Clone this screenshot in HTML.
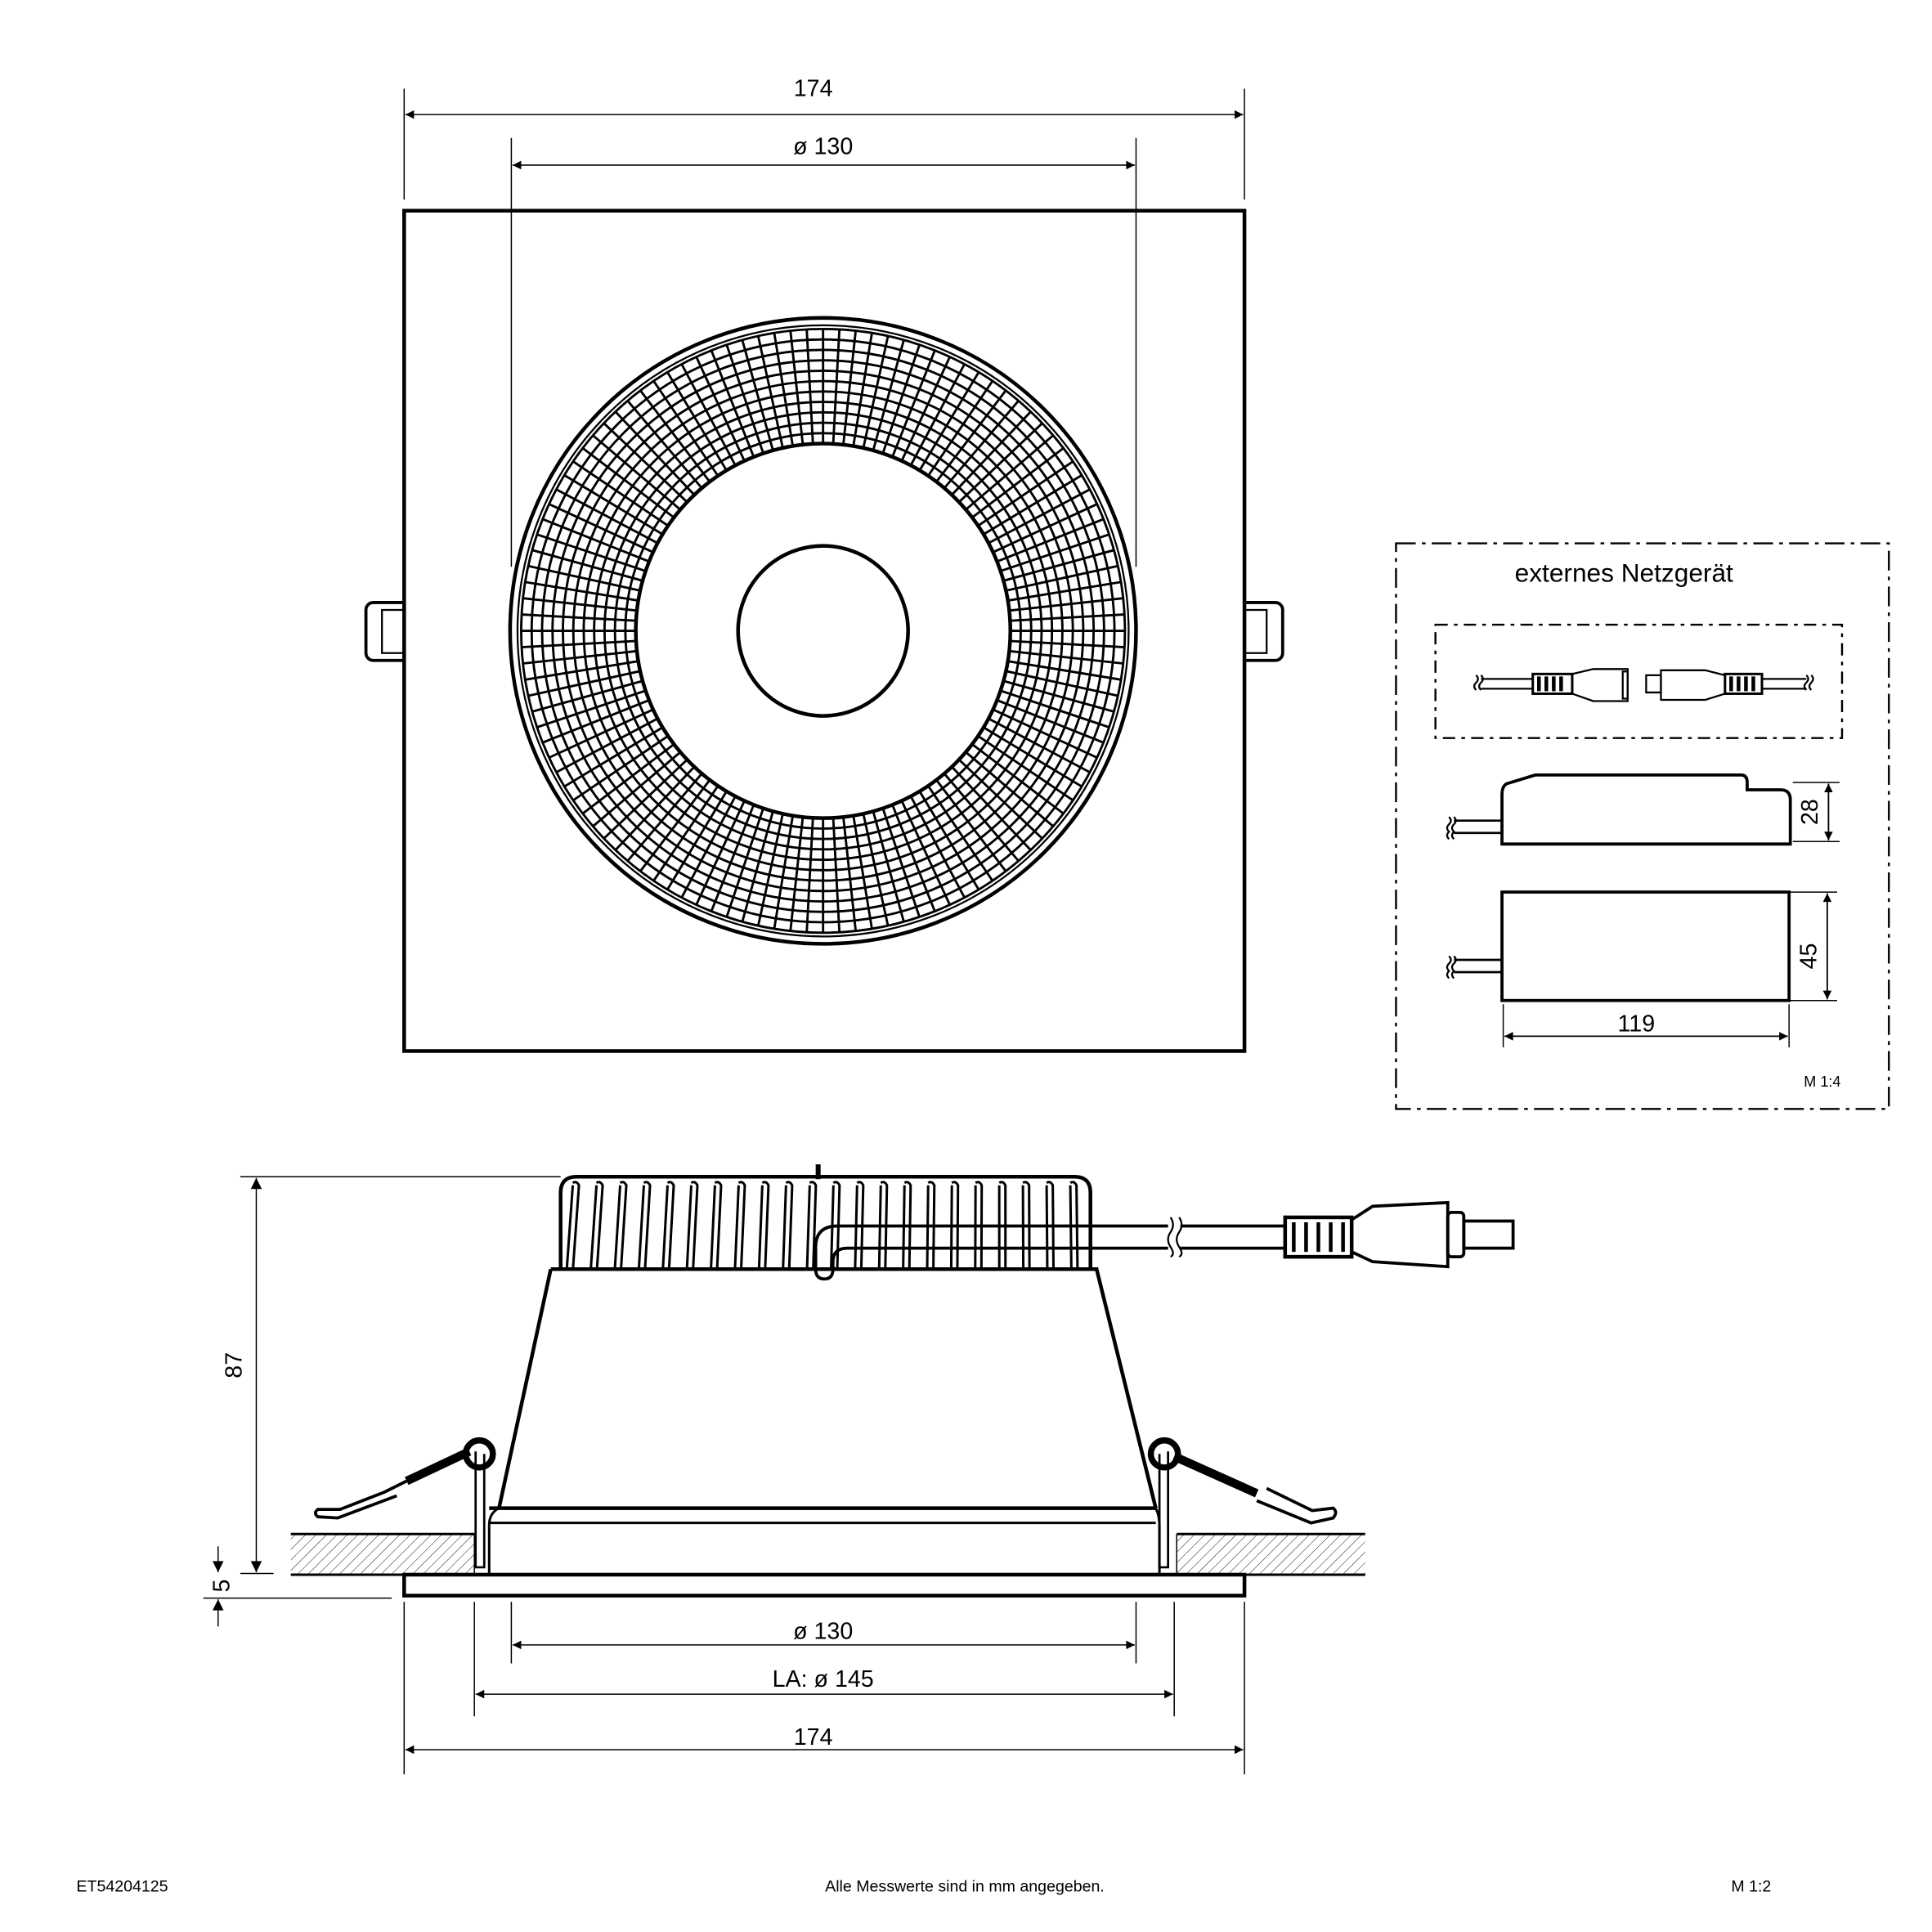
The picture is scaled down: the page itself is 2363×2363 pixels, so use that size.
<!DOCTYPE html>
<html><head><meta charset="utf-8"><style>
html,body{margin:0;padding:0;background:#fff}
svg{display:block}
text{font-family:"Liberation Sans",sans-serif;fill:#000}
</style></head><body>
<svg id="s" width="2363" height="2363" viewBox="0 0 1568 1568" xmlns="http://www.w3.org/2000/svg">
<defs>
<marker id="a" viewBox="0 0 10 10" refX="10" refY="5" markerWidth="14" markerHeight="7" markerUnits="userSpaceOnUse" orient="auto-start-reverse"><path d="M0,0L10,5L0,10z" fill="#000"/></marker>
<marker id="b" viewBox="0 0 10 10" refX="10" refY="5" markerWidth="16" markerHeight="9" markerUnits="userSpaceOnUse" orient="auto-start-reverse"><path d="M0,0L10,5L0,10z" fill="#000"/></marker>
<pattern id="h" width="6" height="6" patternUnits="userSpaceOnUse" patternTransform="rotate(45)"><line x1="0" y1="0" x2="0" y2="6" stroke="#000" stroke-width="0.6"/></pattern>
</defs>
<g fill="none" stroke="#000">
<line x1="328" y1="72" x2="328" y2="162" stroke-width="1"/>
<line x1="1010" y1="72" x2="1010" y2="162" stroke-width="1"/>
<line x1="329" y1="93" x2="1009" y2="93" stroke-width="1" marker-start="url(#a)" marker-end="url(#a)"/>
<line x1="415" y1="112" x2="415" y2="460" stroke-width="1"/>
<line x1="922" y1="112" x2="922" y2="460" stroke-width="1"/>
<line x1="416" y1="134" x2="921" y2="134" stroke-width="1" marker-start="url(#a)" marker-end="url(#a)"/>
<rect x="328" y="171" width="682" height="682" stroke-width="3"/>
<path d="M328,489H303a6,6 0 0 0-6,6V530a6,6 0 0 0 6,6H328" stroke-width="2.5"/>
<path d="M328,495H310V530H328" stroke-width="1.5"/>
<path d="M1010,489H1035a6,6 0 0 1 6,6V530a6,6 0 0 1-6,6H1010" stroke-width="2.5"/>
<path d="M1010,495H1028V530H1010" stroke-width="1.5"/>
<circle cx="668" cy="512" r="254" stroke-width="3"/>
<circle cx="668" cy="512" r="248" stroke-width="1.5"/>
<g id="grid" stroke-width="1.9"></g>
<circle cx="668" cy="512" r="152" stroke-width="3"/>
<circle cx="668" cy="512" r="69" stroke-width="3"/>

<rect x="1133" y="441" width="400" height="459" stroke-width="1.6" stroke-dasharray="16,5,3,5"/>
<rect x="1165" y="507" width="330" height="92" stroke-width="1.6" stroke-dasharray="10,5,3,5"/>
<g stroke-width="1.5">
<path d="M1198,548q3,3 0,6q-3,3 0,6M1202,548q3,3 0,6q-3,3 0,6"/>
<line x1="1202" y1="551" x2="1244" y2="551"/><line x1="1202" y1="559" x2="1244" y2="559"/>
<rect x="1244" y="547" width="32" height="16" stroke-width="2"/>
<path d="M1249,549v12M1255,549v12M1261,549v12M1267,549v12" stroke-width="3"/>
<path d="M1276,547L1293,543H1321V569H1293L1276,563"/>
<rect x="1317" y="545" width="4" height="22"/>
<path d="M1336,548H1348V562H1336z"/>
<path d="M1348,544H1384L1400,548V563L1384,568H1348z"/>
<rect x="1400" y="547" width="30" height="16" stroke-width="2"/>
<path d="M1405,549v12M1411,549v12M1417,549v12M1423,549v12" stroke-width="3"/>
<line x1="1430" y1="551" x2="1466" y2="551"/><line x1="1430" y1="559" x2="1466" y2="559"/>
<path d="M1466,548q3,3 0,6q-3,3 0,6M1470,548q3,3 0,6q-3,3 0,6"/>
</g>
<path d="M1219,685V645q0-7 4-9L1246,629H1413q5,0 5,6V641H1445q8,0 8,8V685z" stroke-width="2.5"/>
<line x1="1180" y1="666" x2="1219" y2="666" stroke-width="1.8"/>
<line x1="1180" y1="676" x2="1219" y2="676" stroke-width="1.8"/>
<path d="M1176,663q3,3 0,6q-3,3 0,6q-3,3 0,6M1180,663q3,3 0,6q-3,3 0,6q-3,3 0,6" stroke-width="1.5"/>
<line x1="1455" y1="635" x2="1493" y2="635" stroke-width="1"/>
<line x1="1455" y1="683" x2="1493" y2="683" stroke-width="1"/>
<line x1="1484" y1="636" x2="1484" y2="682" stroke-width="1.2" marker-start="url(#a)" marker-end="url(#a)"/>
<rect x="1219" y="724" width="233" height="88" stroke-width="2.5"/>
<line x1="1180" y1="779" x2="1219" y2="779" stroke-width="1.8"/>
<line x1="1180" y1="789" x2="1219" y2="789" stroke-width="1.8"/>
<path d="M1176,776q3,3 0,6q-3,3 0,6q-3,3 0,6M1180,776q3,3 0,6q-3,3 0,6q-3,3 0,6" stroke-width="1.5"/>
<line x1="1453" y1="724" x2="1491" y2="724" stroke-width="1"/>
<line x1="1453" y1="812" x2="1491" y2="812" stroke-width="1"/>
<line x1="1483" y1="725" x2="1483" y2="811" stroke-width="1.2" marker-start="url(#a)" marker-end="url(#a)"/>
<line x1="1220" y1="815" x2="1220" y2="850" stroke-width="1"/>
<line x1="1452" y1="815" x2="1452" y2="850" stroke-width="1"/>
<line x1="1221" y1="841" x2="1451" y2="841" stroke-width="1.2" marker-start="url(#a)" marker-end="url(#a)"/>

<path d="M455,1030V968q0-13 13-13H872q13,0 13,13V1030" stroke-width="3"/>
<g id="fins" stroke-width="2"></g>
<line x1="664" y1="945" x2="664" y2="957" stroke-width="4"/>
<path d="M447,1030H890L938,1224" stroke-width="3"/>
<path d="M447,1030L405,1224" stroke-width="3"/>
<line x1="397" y1="1224" x2="938" y2="1224" stroke-width="3"/>
<line x1="397" y1="1236" x2="938" y2="1236" stroke-width="2"/>
<path d="M405,1224q-8,4-8,14V1278M938,1224q3,6 3,14V1278" stroke-width="2"/>
<rect x="328" y="1278" width="682" height="17" stroke-width="3"/>
<rect x="236" y="1245" width="149" height="33" fill="url(#h)" stroke="none"/>
<line x1="236" y1="1245" x2="385" y2="1245" stroke-width="2"/>
<line x1="236" y1="1278" x2="328" y2="1278" stroke-width="2"/>
<line x1="385" y1="1245" x2="385" y2="1278" stroke-width="1"/>
<rect x="955" y="1245" width="153" height="33" fill="url(#h)" stroke="none"/>
<line x1="955" y1="1245" x2="1108" y2="1245" stroke-width="2"/>
<line x1="1010" y1="1278" x2="1108" y2="1278" stroke-width="2"/>
<line x1="955" y1="1245" x2="955" y2="1278" stroke-width="1"/>
<circle cx="389" cy="1180" r="11" stroke-width="5"/>
<path d="M386,1178V1272H393V1180" stroke-width="1.8"/>
<path d="M381,1178L330,1202" stroke-width="7"/>
<path d="M330,1202L312,1211L276,1225H258q-4,3 0,6L274,1232L322,1214" stroke-width="2.5"/>
<circle cx="945" cy="1180" r="11" stroke-width="5"/>
<path d="M948,1178V1272H941V1180" stroke-width="1.8"/>
<path d="M953,1182L1020,1212" stroke-width="7"/>
<path d="M1028,1208L1065,1226L1082,1224q4,3 0,8L1064,1236L1020,1218" stroke-width="2.5"/>
<path d="M662,1030V1012q0-17 18-17H948M958,995H1043" stroke-width="2.5"/>
<path d="M676,1030V1024q0-11 12-11H948M958,1013H1043" stroke-width="2.5"/>
<path d="M662,1030q0,8 7,8q7,0 7-8" stroke-width="2.5"/>
<path d="M950,988q4,6 0,12q-4,6 0,12q4,6 0,8M957,988q4,6 0,12q-4,6 0,12q4,6 0,8" stroke-width="1.5"/>
<rect x="1043" y="988" width="54" height="32" stroke-width="3"/>
<path d="M1050,992v24M1060,992v24M1070,992v24M1080,992v24M1090,992v24" stroke-width="3"/>
<path d="M1097,990L1114,979L1175,976V1028L1114,1024L1097,1016" stroke-width="2.5"/>
<rect x="1175" y="984" width="13" height="36" rx="3" stroke-width="2.5"/>
<rect x="1188" y="991" width="40" height="22" stroke-width="2.5"/>
<line x1="195" y1="955" x2="455" y2="955" stroke-width="1"/>
<line x1="208" y1="956" x2="208" y2="1276" stroke-width="1" marker-start="url(#b)" marker-end="url(#b)"/>
<line x1="195" y1="1277" x2="222" y2="1277" stroke-width="1"/>
<line x1="165" y1="1297" x2="318" y2="1297" stroke-width="1"/>
<line x1="177" y1="1255" x2="177" y2="1276" stroke-width="1" marker-end="url(#b)"/>
<line x1="177" y1="1320" x2="177" y2="1298" stroke-width="1" marker-end="url(#b)"/>
<line x1="328" y1="1300" x2="328" y2="1440" stroke-width="1"/>
<line x1="1010" y1="1300" x2="1010" y2="1440" stroke-width="1"/>
<line x1="385" y1="1300" x2="385" y2="1393" stroke-width="1"/>
<line x1="953" y1="1300" x2="953" y2="1393" stroke-width="1"/>
<line x1="415" y1="1300" x2="415" y2="1350" stroke-width="1"/>
<line x1="922" y1="1300" x2="922" y2="1350" stroke-width="1"/>
<line x1="416" y1="1335" x2="921" y2="1335" stroke-width="1" marker-start="url(#a)" marker-end="url(#a)"/>
<line x1="386" y1="1375" x2="952" y2="1375" stroke-width="1" marker-start="url(#a)" marker-end="url(#a)"/>
<line x1="329" y1="1420" x2="1009" y2="1420" stroke-width="1" marker-start="url(#a)" marker-end="url(#a)"/>
</g>
<g font-size="19" text-anchor="middle">
<text x="660" y="78">174</text>
<text x="668" y="125">ø 130</text>
<text x="668" y="1330">ø 130</text>
<text x="668" y="1369">LA: ø 145</text>
<text x="660" y="1416">174</text>
<text x="1318" y="472" font-size="21">externes Netzgerät</text>
<text x="1328" y="837">119</text>
<text transform="translate(1475,659) rotate(-90)">28</text>
<text transform="translate(1474,776) rotate(-90)">45</text>
<text transform="translate(196,1108) rotate(-90)">87</text>
<text transform="translate(186,1287) rotate(-90)">5</text>
</g>
<text x="1494" y="882" font-size="12" text-anchor="end">M 1:4</text>
<g font-size="13">
<text x="62" y="1535">ET54204125</text>
<text x="783" y="1535" text-anchor="middle">Alle Messwerte sind in mm angegeben.</text>
<text x="1405" y="1535">M 1:2</text>
</g>
</svg>
<script>
var ns="http://www.w3.org/2000/svg",g=document.getElementById("grid"),cx=668,cy=512;
function el(p,t,a){var e=document.createElementNS(ns,t);for(var k in a)e.setAttribute(k,a[k]);p.appendChild(e);}
for(var i=0;i<11;i++){el(g,"circle",{cx:cx,cy:cy,r:152+i*8.45});}
el(g,"circle",{cx:cx,cy:cy,r:245});
for(var j=0;j<116;j++){var t=j*Math.PI*2/116;el(g,"line",{x1:cx+152*Math.cos(t),y1:cy+152*Math.sin(t),x2:cx+245*Math.cos(t),y2:cy+245*Math.sin(t)});}
var f=document.getElementById("fins");
for(var k=0;k<22;k++){var x=462+k*19.5;var d=(x-668)/215;var xt=x-d*3;
el(f,"path",{d:"M"+(xt)+",960Q"+(xt+3)+",958 "+(xt+5)+",962L"+(x+3)+",1030"});
el(f,"line",{x1:xt,y1:962,x2:x-2,y2:1030});}
</script>
</body></html>
